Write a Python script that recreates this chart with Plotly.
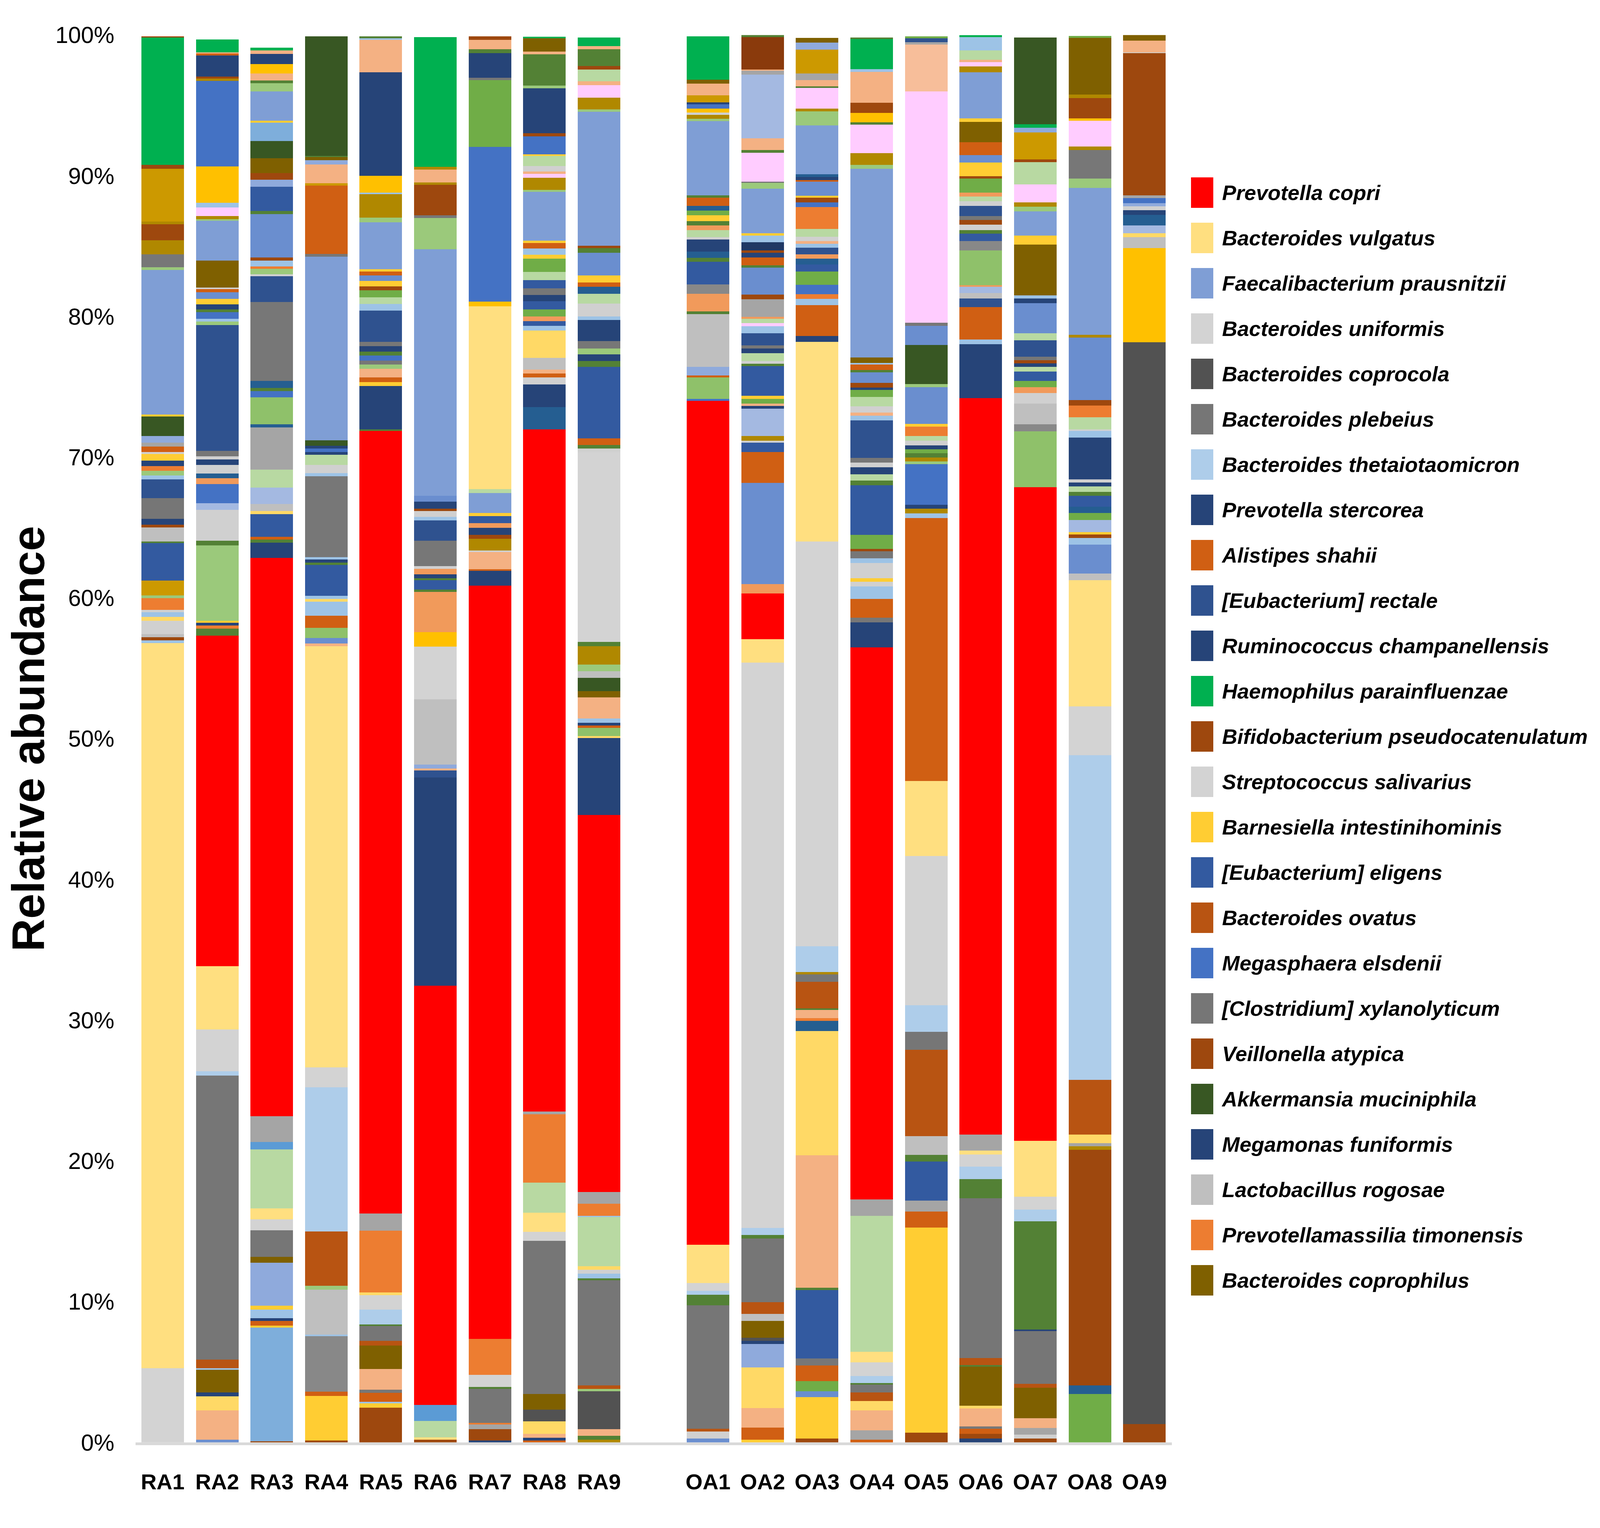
import plotly.graph_objects as go

samples = ["RA1", "RA2", "RA3", "RA4", "RA5", "RA6", "RA7", "RA8", "RA9",
           "OA1", "OA2", "OA3", "OA4", "OA5", "OA6", "OA7", "OA8", "OA9"]

# species shown in the legend (short key -> name)
legend_keys = ["copri", "vulg", "faec", "unif", "coprocola", "plebeius", "theta", "sterc",
               "shahii", "rectale", "rumino", "haemo", "bifido", "saliv", "barnes", "eligens",
               "ovatus", "megasph", "clostr", "veill", "akker", "megam", "lacto", "prevmass", "coproph"]
legend_names = ["Prevotella copri", "Bacteroides vulgatus", "Faecalibacterium prausnitzii",
                "Bacteroides uniformis", "Bacteroides coprocola", "Bacteroides plebeius",
                "Bacteroides thetaiotaomicron", "Prevotella stercorea", "Alistipes shahii",
                "[Eubacterium] rectale", "Ruminococcus champanellensis", "Haemophilus parainfluenzae",
                "Bifidobacterium pseudocatenulatum", "Streptococcus salivarius",
                "Barnesiella intestinihominis", "[Eubacterium] eligens", "Bacteroides ovatus",
                "Megasphaera elsdenii", "[Clostridium] xylanolyticum", "Veillonella atypica",
                "Akkermansia muciniphila", "Megamonas funiformis", "Lactobacillus rogosae",
                "Prevotellamassilia timonensis", "Bacteroides coprophilus"]

colors = {
    "copri": "#FF0000", "vulg": "#FFDF80", "faec": "#7F9ED5", "unif": "#D3D3D3",
    "coprocola": "#525252", "plebeius": "#767676", "theta": "#AECDEA", "sterc": "#264478",
    "shahii": "#D05F13", "rectale": "#2F528F", "rumino": "#264478", "haemo": "#00B050",
    "bifido": "#9E480E", "saliv": "#D3D3D3", "barnes": "#FFCD33", "eligens": "#335AA0",
    "ovatus": "#B85412", "megasph": "#4472C4", "clostr": "#767676", "veill": "#9E480E",
    "akker": "#385723", "megam": "#264478", "lacto": "#BFBFBF", "prevmass": "#ED7D31",
    "coproph": "#7F6000",
    # other (unlabelled) species
    "gold": "#CC9900", "ochre": "#B08800", "peach": "#F4B183", "pink": "#FFCCFF",
    "lgreen": "#9BC97B", "lgreen2": "#8FC16A", "mgreen": "#70AD47", "green2": "#538135",
    "gray2": "#A5A5A5", "gray3": "#888888", "gray4": "#777777", "lblue": "#9DC3E6",
    "peri": "#A4B9E1", "blue2": "#6A8ECF", "teal": "#255E91", "orange2": "#F19A5B",
    "gold2": "#FFC000", "pale": "#B8D9A2", "lblue3": "#8FAADC", "sky": "#7EAEDB",
    "brown2": "#8A3A0C", "yellow2": "#FFD966", "lgray": "#D0D0D0", "navy2": "#203864",
    "sea": "#5B9BD5", "peach2": "#F7BE9A",
}

# relative abundance (%) per sample, bottom to top
RA1 = [("unif", 5.26), ("vulg", 51.53), ("lblue", 0.2), ("bifido", 0.23), ("lacto", 0.2),
       ("lgray", 0.97), ("yellow2", 0.27), ("lblue", 0.33), ("lgray", 0.17), ("prevmass", 0.84),
       ("lgreen", 0.17), ("gold", 1.07), ("eligens", 2.65), ("green2", 0.13), ("lacto", 1.0),
       ("bifido", 0.2), ("sterc", 0.4), ("plebeius", 1.47), ("rectale", 1.34), ("lblue", 0.27),
       ("lgreen", 0.33), ("prevmass", 0.33), ("sterc", 0.4), ("barnes", 0.47), ("lgray", 0.13),
       ("shahii", 0.4), ("gray2", 0.27), ("lblue3", 0.47), ("akker", 1.4), ("barnes", 0.13),
       ("faec", 10.28), ("lgreen", 0.2), ("gray4", 0.9), ("ochre", 1.0), ("bifido", 1.15),
       ("ochre", 0.2), ("gold", 3.75), ("bifido", 0.27), ("haemo", 9.05), ("bifido", 0.07)]
RA2 = [("blue2", 0.2), ("peach", 2.08), ("yellow2", 1.0), ("sterc", 0.27), ("coproph", 1.6),
       ("lblue", 0.13), ("ovatus", 0.6), ("plebeius", 20.17), ("theta", 0.33), ("unif", 2.95),
       ("vulg", 4.52), ("copri", 23.46), ("green2", 0.5), ("prevmass", 0.23), ("sterc", 0.2),
       ("barnes", 0.13), ("lgreen", 5.36), ("green2", 0.33), ("lgray", 2.21), ("peri", 0.47),
       ("megasph", 1.34), ("orange2", 0.43), ("teal", 0.33), ("lgray", 0.6), ("sterc", 0.4),
       ("lgray", 0.23), ("gray4", 0.37), ("rectale", 8.94), ("lgreen", 0.27), ("lblue", 0.2),
       ("megasph", 0.47), ("green2", 0.17), ("sterc", 0.37), ("barnes", 0.4), ("blue2", 0.47),
       ("shahii", 0.23), ("lgray", 0.1), ("coproph", 1.9), ("faec", 2.85), ("lgreen", 0.1),
       ("ochre", 0.23), ("pink", 0.6), ("lblue", 0.33), ("gold2", 2.58), ("megasph", 6.1),
       ("ochre", 0.17), ("bifido", 0.13), ("sterc", 1.5), ("shahii", 0.13), ("peach", 0.1),
       ("haemo", 0.9)]
RA3 = [("bifido", 0.07), ("sky", 8.1), ("barnes", 0.13), ("shahii", 0.33), ("sterc", 0.2),
       ("lblue", 0.6), ("barnes", 0.27), ("lblue3", 3.08), ("coproph", 0.4), ("plebeius", 1.9),
       ("unif", 0.77), ("vulg", 0.77), ("pale", 4.19), ("sea", 0.54), ("gray2", 1.84),
       ("copri", 39.66), ("sterc", 1.07), ("green2", 0.23), ("shahii", 0.2), ("eligens", 1.6),
       ("yellow2", 0.23), ("lacto", 0.5), ("peri", 1.17), ("pale", 1.27), ("gray2", 3.0),
       ("teal", 0.23), ("lgreen2", 1.9), ("megasph", 0.44), ("green2", 0.23), ("teal", 0.5),
       ("gray4", 5.6), ("rectale", 1.84), ("lgray", 0.13), ("lgreen", 0.4), ("prevmass", 0.17),
       ("lblue", 0.4), ("bifido", 0.23), ("blue2", 3.1), ("green2", 0.2), ("eligens", 1.74),
       ("lblue3", 0.5), ("bifido", 0.47), ("coproph", 1.04), ("akker", 1.24), ("sky", 1.3),
       ("barnes", 0.13), ("faec", 2.08), ("lgreen", 0.6), ("green2", 0.17), ("peach", 0.5),
       ("gold2", 0.67), ("sterc", 0.74), ("peach", 0.23), ("haemo", 0.2)]
RA4 = [("bifido", 0.13), ("barnes", 3.18), ("shahii", 0.3), ("gray3", 3.95), ("lblue", 0.1),
       ("lacto", 3.18), ("lgreen", 0.3), ("ovatus", 3.85), ("theta", 10.25), ("unif", 1.4),
       ("vulg", 29.94), ("peach", 0.2), ("blue2", 0.37), ("lgreen2", 0.74), ("shahii", 0.84),
       ("lblue", 1.0), ("yellow2", 0.2), ("lblue", 0.23), ("eligens", 2.18), ("green2", 0.17),
       ("sterc", 0.23), ("lblue", 0.17), ("gray4", 5.73), ("lblue", 0.23), ("lgray", 0.57),
       ("pale", 0.74), ("sterc", 0.2), ("megasph", 0.23), ("sterc", 0.2), ("akker", 0.4),
       ("faec", 13.03), ("gray4", 0.2), ("shahii", 4.86), ("gold", 0.17), ("peach", 1.34),
       ("lblue3", 0.3), ("coproph", 0.23), ("green2", 0.07), ("akker", 8.51)]
RA5 = [("veill", 2.48), ("barnes", 0.3), ("lblue", 0.1), ("shahii", 0.64), ("gray4", 0.23),
       ("peach", 1.47), ("coproph", 1.67), ("ovatus", 0.33), ("plebeius", 1.04), ("green2", 0.13),
       ("theta", 1.04), ("unif", 1.04), ("yellow2", 0.2), ("prevmass", 4.36), ("gray2", 1.24),
       ("copri", 55.59), ("green2", 0.13), ("megam", 3.08), ("barnes", 0.27), ("shahii", 0.33),
       ("peach", 0.6), ("lgreen", 0.33), ("gray4", 0.27), ("megasph", 0.37), ("green2", 0.27),
       ("sterc", 0.37), ("gray4", 0.33), ("rectale", 2.21), ("lblue", 0.47), ("pale", 0.47),
       ("mgreen", 0.5), ("bifido", 0.27), ("barnes", 0.4), ("blue2", 0.4), ("shahii", 0.27),
       ("barnes", 0.17), ("faec", 3.32), ("lgreen", 0.33), ("ochre", 1.67), ("lblue", 0.1),
       ("gold2", 1.2), ("sterc", 7.37), ("peach", 2.31), ("lblue", 0.1), ("green2", 0.13)]
RA6 = [("bifido", 0.2), ("vulg", 0.17), ("pale", 1.14), ("sea", 1.14), ("copri", 29.8),
       ("megam", 14.8), ("rectale", 0.5), ("peach", 0.13), ("lblue3", 0.27), ("lacto", 4.64),
       ("unif", 3.75), ("gold2", 1.04), ("orange2", 2.85), ("green2", 0.17), ("eligens", 0.67),
       ("green2", 0.13), ("sterc", 0.27), ("orange2", 0.4), ("lgray", 0.2), ("gray4", 1.81),
       ("rectale", 1.44), ("lblue", 0.23), ("lgray", 0.43), ("bifido", 0.17), ("sterc", 0.5),
       ("blue2", 0.4), ("faec", 17.52), ("lgreen", 2.24), ("gray4", 0.17), ("bifido", 2.18),
       ("ochre", 0.17), ("peach", 0.9), ("ochre", 0.2), ("haemo", 9.21)]
RA7 = [("sterc", 0.13), ("bifido", 0.8), ("gray2", 0.33), ("prevmass", 0.13), ("plebeius", 2.41),
       ("green2", 0.13), ("unif", 0.87), ("prevmass", 2.55), ("copri", 53.53), ("sterc", 1.04),
       ("shahii", 0.13), ("peach", 1.2), ("lgray", 0.13), ("ochre", 0.84), ("bifido", 0.27),
       ("sterc", 0.5), ("orange2", 0.33), ("eligens", 0.5), ("barnes", 0.23), ("faec", 1.4),
       ("pale", 0.27), ("vulg", 13.0), ("gold2", 0.33), ("megasph", 10.99), ("mgreen", 4.76),
       ("gray4", 0.17), ("sterc", 1.74), ("green2", 0.27), ("peach", 0.67), ("bifido", 0.27)]
RA8 = [("shahii", 0.13), ("sterc", 0.2), ("peach", 0.27), ("yellow2", 0.9), ("coprocola", 0.84),
       ("coproph", 1.1), ("plebeius", 10.89), ("unif", 0.64), ("vulg", 1.34), ("pale", 2.14),
       ("prevmass", 4.86), ("gray2", 0.2), ("copri", 48.48), ("teal", 1.57), ("megam", 1.6),
       ("lgray", 0.5), ("shahii", 0.3), ("peach", 0.27), ("lacto", 0.84), ("yellow2", 1.94),
       ("lblue", 0.33), ("eligens", 0.34), ("orange2", 0.33), ("mgreen", 0.5), ("eligens", 0.57),
       ("sterc", 0.44), ("gray4", 0.47), ("eligens", 0.6), ("pale", 0.57), ("mgreen", 0.94),
       ("barnes", 0.3), ("lblue", 0.44), ("shahii", 0.37), ("barnes", 0.17), ("faec", 3.48),
       ("lgreen", 0.13), ("ochre", 0.87), ("pink", 0.27), ("peach", 0.17), ("lgray", 0.4),
       ("pale", 0.7), ("barnes", 0.13), ("megasph", 1.27), ("bifido", 0.23), ("sterc", 3.18),
       ("lgreen", 0.2), ("green2", 2.21), ("peach", 0.2), ("coproph", 0.94), ("haemo", 0.13)]
RA9 = [("ochre", 0.2), ("green2", 0.27), ("peach", 0.47), ("coprocola", 2.68), ("lgreen", 0.17),
       ("ovatus", 0.27), ("plebeius", 7.47), ("green2", 0.13), ("lblue", 0.33), ("lgray", 0.27),
       ("yellow2", 0.27), ("pale", 3.48), ("lblue", 0.1), ("prevmass", 0.84), ("gray2", 0.84),
       ("copri", 26.8), ("megam", 5.46), ("yellow2", 0.13), ("lgreen2", 0.6), ("shahii", 0.17),
       ("sterc", 0.17), ("lblue", 0.33), ("peach", 1.5), ("coproph", 0.44), ("akker", 0.94),
       ("lacto", 0.47), ("lgreen", 0.47), ("ochre", 1.3), ("green2", 0.3), ("unif", 13.47),
       ("lgray", 0.27), ("green2", 0.27), ("shahii", 0.47), ("eligens", 5.06), ("green2", 0.44),
       ("sterc", 0.47), ("lgreen", 0.4), ("gray4", 0.54), ("sterc", 1.5), ("lblue", 0.23),
       ("lgray", 0.94), ("pale", 0.67), ("teal", 0.5), ("shahii", 0.33), ("barnes", 0.5),
       ("blue2", 1.6), ("green2", 0.33), ("bifido", 0.17), ("faec", 9.51), ("lgreen", 0.17),
       ("ochre", 0.84), ("pink", 0.9), ("peach", 0.27), ("pale", 0.84), ("bifido", 0.23),
       ("green2", 1.2), ("peach", 0.23), ("haemo", 0.6)]
OA1 = [("blue2", 0.27), ("lgray", 0.5), ("ovatus", 0.2), ("plebeius", 8.78), ("green2", 0.74),
       ("theta", 0.27), ("unif", 0.57), ("vulg", 2.71), ("copri", 59.97), ("megasph", 0.13),
       ("lgreen2", 1.54), ("shahii", 0.13), ("lblue3", 0.6), ("lacto", 3.75), ("green2", 0.2),
       ("orange2", 1.24), ("gray3", 0.67), ("eligens", 1.61), ("green2", 0.3), ("teal", 0.44),
       ("sterc", 0.84), ("lgray", 0.17), ("pale", 0.5), ("orange2", 0.33), ("green2", 0.33),
       ("barnes", 0.4), ("mgreen", 0.33), ("teal", 0.33), ("shahii", 0.6), ("green2", 0.17),
       ("faec", 5.26), ("lgreen", 0.17), ("ochre", 0.27), ("lgray", 0.17), ("gold2", 0.27),
       ("megasph", 0.33), ("sterc", 0.13), ("gold", 0.5), ("peach", 0.84), ("coproph", 0.27),
       ("haemo", 3.08)]
OA2 = [("barnes", 0.2), ("shahii", 0.84), ("peach", 1.4), ("yellow2", 2.88), ("lblue3", 1.67),
       ("sterc", 0.23), ("coprocola", 0.23), ("coproph", 1.17), ("lacto", 0.5), ("ovatus", 0.84),
       ("plebeius", 4.52), ("green2", 0.27), ("theta", 0.5), ("unif", 40.15), ("vulg", 1.67),
       ("copri", 3.25), ("orange2", 0.67), ("blue2", 7.2), ("shahii", 2.18), ("eligens", 0.67),
       ("lgray", 0.13), ("ochre", 0.33), ("peri", 1.94), ("sterc", 0.2), ("peach", 0.17),
       ("mgreen", 0.33), ("barnes", 0.23), ("eligens", 2.11), ("green2", 0.17), ("lgray", 0.2),
       ("pale", 0.54), ("sterc", 0.33), ("gray4", 0.23), ("rectale", 0.87), ("lblue", 0.5),
       ("pink", 0.2), ("pale", 0.33), ("orange2", 0.13), ("gray2", 1.24), ("bifido", 0.33),
       ("blue2", 1.91), ("green2", 0.17), ("shahii", 0.57), ("sterc", 0.33), ("bifido", 0.17),
       ("navy2", 0.57), ("lblue", 0.47), ("barnes", 0.17), ("faec", 3.18), ("lgreen", 0.4),
       ("gray4", 0.1), ("pink", 2.04), ("green2", 0.2), ("peach", 0.84), ("peri", 4.52),
       ("gray2", 0.27), ("peach", 0.1), ("brown2", 2.3), ("green2", 0.17)]
OA3 = [("bifido", 0.27), ("barnes", 2.95), ("blue2", 0.4), ("mgreen", 0.74), ("shahii", 1.1),
       ("gray4", 0.5), ("eligens", 4.86), ("green2", 0.17), ("peach", 9.41), ("yellow2", 8.84),
       ("teal", 0.7), ("prevmass", 0.2), ("peach", 0.6), ("green2", 0.1), ("ovatus", 1.9),
       ("plebeius", 0.5), ("ochre", 0.17), ("theta", 1.84), ("unif", 28.76), ("vulg", 14.2),
       ("megam", 0.4), ("shahii", 2.21), ("lblue", 0.44), ("prevmass", 0.33), ("megasph", 0.67),
       ("mgreen", 0.94), ("eligens", 0.5), ("teal", 0.4), ("orange2", 0.33), ("rectale", 0.47),
       ("lblue", 0.27), ("peach", 0.2), ("lgray", 0.3), ("pale", 0.54), ("prevmass", 1.57),
       ("megasph", 0.33), ("bifido", 0.33), ("barnes", 0.13), ("blue2", 1.0), ("shahii", 0.13),
       ("sterc", 0.2), ("teal", 0.2), ("faec", 3.48), ("lgreen", 1.0), ("ochre", 0.2),
       ("pink", 1.47), ("green2", 0.1), ("peach", 0.44), ("gray2", 0.47), ("gold", 1.71),
       ("lblue3", 0.5), ("coproph", 0.33)]
OA4 = [("shahii", 0.2), ("gray2", 0.67), ("peach", 1.4), ("yellow2", 0.67), ("ovatus", 0.6),
       ("plebeius", 0.57), ("green2", 0.1), ("theta", 0.5), ("unif", 0.97), ("vulg", 0.77),
       ("pale", 9.65), ("gray2", 1.17), ("copri", 39.21), ("megam", 1.78), ("gray4", 0.33),
       ("shahii", 1.34), ("lblue", 0.9), ("lgray", 0.33), ("barnes", 0.23), ("lgray", 1.1),
       ("lblue", 0.33), ("gray4", 0.5), ("bifido", 0.17), ("mgreen", 1.0), ("eligens", 3.52),
       ("green2", 0.33), ("pale", 0.44), ("sterc", 0.5), ("lgray", 0.33), ("gray4", 0.33),
       ("rectale", 2.68), ("lblue", 0.33), ("peach", 0.23), ("lgray", 0.44), ("pale", 0.67),
       ("mgreen", 0.5), ("sterc", 0.17), ("bifido", 0.33), ("blue2", 0.74), ("green2", 0.17),
       ("shahii", 0.4), ("lblue", 0.1), ("coproph", 0.4), ("faec", 13.4), ("lgreen", 0.27),
       ("ochre", 0.84), ("pink", 2.01), ("green2", 0.17), ("gold2", 0.67), ("bifido", 0.74),
       ("peach", 2.18), ("lblue", 0.2), ("haemo", 2.14), ("green2", 0.1)]
OA5 = [("bifido", 0.7), ("barnes", 14.57), ("shahii", 1.14), ("gray2", 0.77), ("eligens", 2.78),
       ("green2", 0.47), ("lacto", 1.34), ("ovatus", 6.13), ("plebeius", 1.27), ("theta", 1.9),
       ("unif", 10.59), ("vulg", 5.33), ("shahii", 18.7), ("lblue", 0.33), ("ochre", 0.33),
       ("sterc", 0.27), ("megasph", 2.88), ("lgreen", 0.2), ("ochre", 0.27), ("green2", 0.33),
       ("mgreen", 0.27), ("sterc", 0.27), ("lgray", 0.33), ("pale", 0.33), ("prevmass", 0.67),
       ("barnes", 0.2), ("blue2", 2.61), ("lgreen", 0.23), ("akker", 2.78), ("blue2", 1.34),
       ("gray4", 0.23), ("pink", 16.42), ("peach2", 3.35), ("gray2", 0.17), ("rectale", 0.27),
       ("mgreen", 0.13)]
OA6 = [("sterc", 0.27), ("bifido", 0.33), ("shahii", 0.37), ("gray4", 0.17), ("peach", 1.27),
       ("yellow2", 0.2), ("coproph", 2.78), ("green2", 0.1), ("ovatus", 0.5), ("plebeius", 11.36),
       ("green2", 1.37), ("theta", 0.87), ("unif", 0.87), ("vulg", 0.27), ("gray2", 1.14),
       ("copri", 52.34), ("megam", 3.82), ("lblue", 0.33), ("shahii", 2.31), ("rectale", 0.6),
       ("lacto", 0.4), ("peri", 0.44), ("orange2", 0.1), ("lgreen2", 2.48), ("gray3", 0.67),
       ("eligens", 0.54), ("green2", 0.23), ("lgray", 0.4), ("bifido", 0.33), ("gray4", 0.27),
       ("rectale", 0.74), ("lgray", 0.33), ("pale", 0.33), ("orange2", 0.27), ("mgreen", 1.0),
       ("bifido", 0.17), ("barnes", 0.97), ("blue2", 0.54), ("shahii", 0.9), ("coproph", 1.44),
       ("barnes", 0.27), ("faec", 3.25), ("ochre", 0.44), ("pink", 0.3), ("peach", 0.17),
       ("pale", 0.67), ("lblue", 0.94), ("haemo", 0.13)]
OA7 = [("bifido", 0.27), ("lgray", 0.27), ("gray2", 0.47), ("peach", 0.7), ("coproph", 2.18),
       ("ovatus", 0.27), ("plebeius", 3.75), ("sterc", 0.1), ("green2", 7.7), ("theta", 0.84),
       ("unif", 0.9), ("vulg", 3.99), ("copri", 46.44), ("lgreen2", 3.95), ("gray3", 0.5),
       ("lacto", 1.47), ("lgray", 0.77), ("orange2", 0.4), ("mgreen", 0.44), ("eligens", 0.67),
       ("pale", 0.33), ("sterc", 0.27), ("bifido", 0.2), ("gray4", 0.27), ("rectale", 1.17),
       ("pale", 0.5), ("blue2", 2.14), ("sterc", 0.33), ("lblue", 0.2), ("coproph", 3.62),
       ("barnes", 0.64), ("faec", 1.71), ("lgreen", 0.33), ("ochre", 0.33), ("pink", 1.27),
       ("pale", 1.57), ("bifido", 0.2), ("gold", 1.91), ("lblue3", 0.33), ("haemo", 0.27),
       ("akker", 6.16)]
OA8 = [("mgreen", 3.45), ("teal", 0.6), ("veill", 16.75), ("ochre", 0.23), ("gray2", 0.23),
       ("yellow2", 0.6), ("ovatus", 3.89), ("theta", 23.08), ("unif", 3.46), ("vulg", 8.98),
       ("lacto", 0.47), ("blue2", 2.04), ("lblue", 0.47), ("bifido", 0.27), ("barnes", 0.17),
       ("peri", 0.84), ("mgreen", 0.5), ("teal", 0.44), ("eligens", 0.8), ("green2", 0.27),
       ("pale", 0.4), ("sterc", 0.27), ("lgray", 0.23), ("sterc", 2.95), ("lblue", 0.47),
       ("lgray", 0.13), ("pale", 0.84), ("prevmass", 0.84), ("bifido", 0.4), ("blue2", 4.42),
       ("ochre", 0.2), ("faec", 10.45), ("lgreen", 0.67), ("gray4", 2.01), ("ochre", 0.27),
       ("pink", 1.81), ("gold2", 0.17), ("bifido", 1.44), ("ochre", 0.27), ("coproph", 4.02),
       ("mgreen", 0.13)]
OA9 = [("bifido", 1.31), ("coprocola", 76.86), ("gold2", 6.7), ("lacto", 0.77), ("yellow2", 0.27),
       ("peri", 0.57), ("teal", 0.74), ("sterc", 0.33), ("lgray", 0.27), ("lblue3", 0.23),
       ("megasph", 0.37), ("gray2", 0.2), ("bifido", 10.08), ("lgray", 0.07), ("peach", 0.84),
       ("coproph", 0.4)]

profiles = [RA1, RA2, RA3, RA4, RA5, RA6, RA7, RA8, RA9,
            OA1, OA2, OA3, OA4, OA5, OA6, OA7, OA8, OA9]

y_ticks = list(range(0, 101, 10))

names = dict(zip(legend_keys, legend_names))
FONT = "Liberation Sans, Arial, sans-serif"

# positions measured on the 6181 x 3911 reference, as fractions of the page
RW, RH = 6181, 3911


def fx(v):
    return v / RW


def fy(v):
    return 1 - v / RH


# one empty slot between the RA and OA groups
xpos = [i if s.startswith("RA") else i + 1 for i, s in enumerate(samples)]

fig = go.Figure()

n_layers = max(len(p) for p in profiles)
for k in range(n_layers):
    xs, ys, cs, hs = [], [], [], []
    for x, prof in zip(xpos, profiles):
        if k < len(prof):
            key, val = prof[k]
            xs.append(x)
            ys.append(val)
            cs.append(colors[key])
            hs.append(names.get(key, "other"))
    fig.add_trace(go.Bar(x=xs, y=ys, width=0.78, hovertext=hs,
                         marker=dict(color=cs, line=dict(width=0)),
                         showlegend=False, xaxis="x", yaxis="y"))

# legend panel: one swatch per named species
fig.add_trace(go.Bar(x=[1] * len(legend_names), y=legend_names, orientation="h", width=0.67,
                     marker=dict(color=[colors[k] for k in legend_keys], line=dict(width=0)),
                     showlegend=False, hoverinfo="skip", xaxis="x2", yaxis="y2"))

fig.update_layout(
    autosize=True,
    barmode="stack",
    template="none",
    paper_bgcolor="white", plot_bgcolor="white",
    margin=dict(l=0, r=0, t=0, b=0, pad=0),
    font=dict(family=FONT, color="#000000"),
    xaxis=dict(domain=[fx(513), fx(4532)], range=[-0.5, 18.5], anchor="y",
               tickvals=xpos, ticktext=samples, ticks="", showgrid=False, zeroline=False,
               showline=True, linecolor="#D9D9D9", linewidth=7,
               tickfont=dict(family=FONT, size=56, color="#000000", weight="bold"),
               ticklabelstandoff=46, automargin=False),
    yaxis=dict(domain=[fy(3699), fy(82)], range=[0, 100], anchor="x",
               tickvals=y_ticks, ticktext=[f"{v}%" for v in y_ticks], ticks="",
               showgrid=False, zeroline=False, showline=False,
               tickfont=dict(family=FONT, size=59, color="#000000"),
               ticklabelstandoff=53, automargin=False,
               title=dict(text="Relative abundance", standoff=115,
                          font=dict(family=FONT, size=116, color="#000000", weight="bold"))),
    xaxis2=dict(domain=[fx(4607), fx(4694)], range=[0, 1], anchor="y2", visible=False),
    yaxis2=dict(domain=[fy(3341), fy(429)], anchor="x2", side="right",
                type="category", categoryorder="array", categoryarray=legend_names,
                range=[len(legend_names) - 0.5, -0.5], autorange=False,
                showgrid=False, zeroline=False, showline=False, ticks="",
                tickfont=dict(family=FONT, size=54, color="#000000", weight="bold", style="italic"),
                ticklabelstandoff=21, automargin=False),
)

fig.write_html("out.html")
